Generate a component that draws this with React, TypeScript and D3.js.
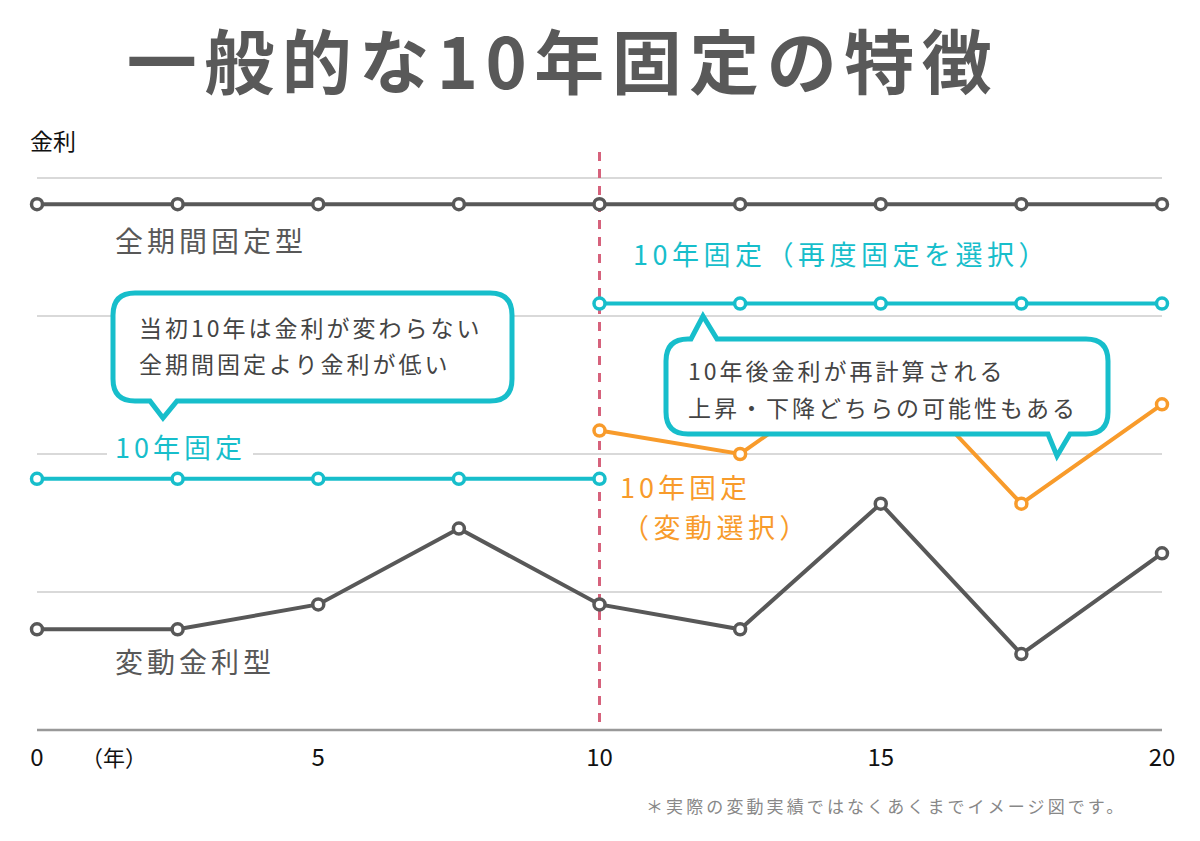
import React from "react";
import * as d3 from "d3";

// ---- data ----
const years = [0, 2.5, 5, 7.5, 10, 12.5, 15, 17.5, 20];
const fullFixedValues = [3.81, 3.81, 3.81, 3.81, 3.81, 3.81, 3.81, 3.81, 3.81];
const variableValues = [0.73, 0.73, 0.91, 1.46, 0.91, 0.73, 1.64, 0.55, 1.28];
const fixed10Years = [0, 2.5, 5, 7.5, 10];
const fixed10Values = [1.82, 1.82, 1.82, 1.82, 1.82];
const refixYears = [10, 12.5, 15, 17.5, 20];
const refixValues = [3.09, 3.09, 3.09, 3.09, 3.09];
const floatChoiceYears = [10, 12.5, 15, 17.5, 20];
const floatChoiceValues = [2.17, 2.0, 2.72, 1.64, 2.36];
const gridValues = [1, 2, 3, 4];
const xTickValues = [0, 5, 10, 15, 20];

const GRAY = "#585858";
const CYAN = "#17BECB";
const ORANGE = "#F89B2B";
const RED = "#D6627C";
const FONT = "'Noto Sans CJK JP', 'Noto Sans', sans-serif";

const x = d3.scaleLinear().domain([0, 20]).range([37, 1162]);
const y = d3.scaleLinear().domain([0, 4]).range([730, 178]);

type P = [number, number];
const lineGen = d3.line<P>().x((d) => x(d[0])).y((d) => y(d[1]));

function zip(xs: number[], ys: number[]): P[] {
  return xs.map((v, i) => [v, ys[i]] as P);
}

function Series({ pts, color }: { pts: P[]; color: string }) {
  return (
    <g>
      <path d={lineGen(pts) || ""} fill="none" stroke={color} strokeWidth={4} />
      {pts.map((p, i) => (
        <circle key={i} cx={x(p[0])} cy={y(p[1])} r={5.5} fill="#fff" stroke={color} strokeWidth={3.5} />
      ))}
    </g>
  );
}

type Ptr = { l: number; r: number; tx: number; ty: number };
function calloutPath(x0: number, y0: number, x1: number, y1: number, rr: number, top?: Ptr, bottom?: Ptr) {
  let d = `M${x0 + rr},${y0}`;
  if (top) d += ` L${top.l},${y0} L${top.tx},${top.ty} L${top.r},${y0}`;
  d += ` L${x1 - rr},${y0} Q${x1},${y0} ${x1},${y0 + rr}`;
  d += ` L${x1},${y1 - rr} Q${x1},${y1} ${x1 - rr},${y1}`;
  if (bottom) d += ` L${bottom.r},${y1} L${bottom.tx},${bottom.ty} L${bottom.l},${y1}`;
  d += ` L${x0 + rr},${y1} Q${x0},${y1} ${x0},${y1 - rr}`;
  d += ` L${x0},${y0 + rr} Q${x0},${y0} ${x0 + rr},${y0} Z`;
  return d;
}

export default function App() {
  const labelStyle = { fontFamily: FONT, letterSpacing: "3px" } as React.CSSProperties;
  return (
    <svg
      width={1200}
      height={841}
      viewBox="0 0 1200 841"
      style={{ position: "absolute", left: 0, top: 0, display: "block", background: "#fff" }}
    >
      <rect x={0} y={0} width={1200} height={841} fill="#fff" />
      {/* title */}
      <text
        x={563}
        y={89}
        textAnchor="middle"
        fontSize={70}
        fontWeight={700}
        fill="#595959"
        style={{ fontFamily: FONT, letterSpacing: "7.5px" }}
      >
        一般的な10年固定の特徴
      </text>
      <text x={30} y={150} fontSize={23} fill="#111" style={{ fontFamily: FONT }}>
        金利
      </text>

      {/* grid */}
      {gridValues.map((g) => (
        <line key={g} x1={x(0)} x2={x(20)} y1={y(g)} y2={y(g)} stroke="#cccccc" strokeWidth={1.5} />
      ))}
      <line x1={x(0)} x2={x(20)} y1={y(0)} y2={y(0)} stroke="#999" strokeWidth={2.5} />

      {/* white gap behind left cyan label */}
      <rect x={107} y={432} width={146} height={34} fill="#fff" />
      <text x={115} y={458} fontSize={27} fill={CYAN} style={{ ...labelStyle, letterSpacing: "4px" }}>
        10年固定
      </text>

      {/* dashed marker at year 10 */}
      <line x1={x(10)} x2={x(10)} y1={152} y2={y(0)} stroke={RED} strokeWidth={3} strokeDasharray="9 8" />

      {/* series */}
      <Series pts={zip(years, fullFixedValues)} color={GRAY} />
      <Series pts={zip(years, variableValues)} color={GRAY} />
      <Series pts={zip(floatChoiceYears, floatChoiceValues)} color={ORANGE} />
      <Series pts={zip(fixed10Years, fixed10Values)} color={CYAN} />
      <Series pts={zip(refixYears, refixValues)} color={CYAN} />

      {/* series labels */}
      <text x={115} y={252} fontSize={28} fill={GRAY} style={{ ...labelStyle, letterSpacing: "4px" }}>
        全期間固定型
      </text>
      <text x={115} y={673} fontSize={28} fill={GRAY} style={{ ...labelStyle, letterSpacing: "4px" }}>
        変動金利型
      </text>
      <text x={633} y={265} fontSize={27} fill={CYAN} style={{ ...labelStyle, letterSpacing: "4.5px" }}>
        10年固定（再度固定を選択）
      </text>
      <text x={620} y={498} fontSize={27} fill={ORANGE} style={{ ...labelStyle, letterSpacing: "4px" }}>
        10年固定
      </text>
      <text x={622} y={538} fontSize={27} fill={ORANGE} style={{ ...labelStyle, letterSpacing: "4.5px" }}>
        （変動選択）
      </text>

      {/* callout 1 */}
      <path
        d={calloutPath(113, 293, 512, 401, 22, undefined, { l: 150, r: 177, tx: 163, ty: 418 })}
        fill="#fff"
        stroke={CYAN}
        strokeWidth={5}
        strokeLinejoin="miter"
      />
      <text x={139} y={337} fontSize={23} fill="#444" style={labelStyle}>
        当初10年は金利が変わらない
      </text>
      <text x={139} y={373} fontSize={23} fill="#444" style={labelStyle}>
        全期間固定より金利が低い
      </text>

      {/* callout 2 */}
      <path
        d={calloutPath(
          666,
          339,
          1108,
          434,
          22,
          { l: 691, r: 717, tx: 703, ty: 316 },
          { l: 1048, r: 1070, tx: 1057, ty: 456 }
        )}
        fill="#fff"
        stroke={CYAN}
        strokeWidth={5}
        strokeLinejoin="miter"
      />
      <text x={688} y={380} fontSize={23} fill="#444" style={labelStyle}>
        10年後金利が再計算される
      </text>
      <text x={688} y={417} fontSize={23} fill="#444" style={labelStyle}>
        上昇・下降どちらの可能性もある
      </text>

      {/* x axis ticks */}
      {xTickValues.map((t) => (
        <text key={t} x={x(t)} y={766} textAnchor="middle" fontSize={24} fill="#111" style={{ fontFamily: FONT }}>
          {t}
        </text>
      ))}
      <text x={114} y={766} textAnchor="middle" fontSize={22} fill="#111" style={{ fontFamily: FONT }}>
        （年）
      </text>

      {/* footnote */}
      <text x={646} y={813} fontSize={17} fill="#888" style={{ fontFamily: FONT, letterSpacing: "3.1px" }}>
        ＊実際の変動実績ではなくあくまでイメージ図です。
      </text>
    </svg>
  );
}
